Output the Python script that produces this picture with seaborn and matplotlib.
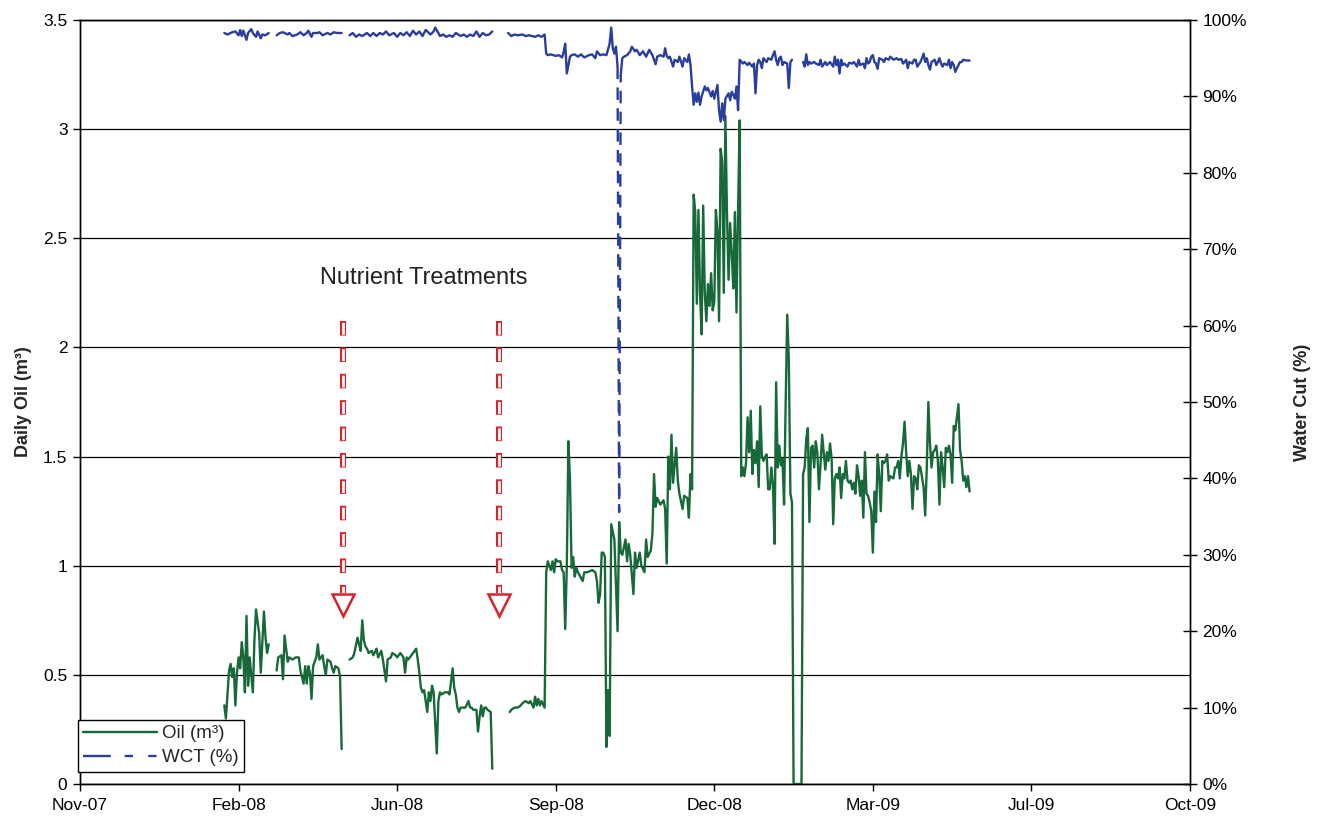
import numpy as np
import pandas as pd
import matplotlib
matplotlib.use("Agg")
import matplotlib.pyplot as plt
import matplotlib.dates as mdates
from matplotlib.lines import Line2D
from matplotlib.ticker import FixedLocator, FuncFormatter
from matplotlib import font_manager as fm
import seaborn as sns

# ---------------- data (days counted from the axis start, 15-Nov-2007) ----------------
AXIS_START = "2007-11-15"
X_TICK_STEP_DAYS = 100
X_SPAN_DAYS = 700

oil_day = [
    91, 92, 94, 95, 96, 97, 98, 99, 100, 101, 102, 103, 104, 105, 106, 107, 109, 110, 111, 113, 114, 116, 117, 118, 119,
    124, 125, 127, 128, 129, 131, 132, 134, 136, 138, 139, 141, 142, 143, 144, 145, 146, 147, 149, 150, 151, 153, 154,
    155, 156, 158, 159, 160, 161, 163, 164, 165,
    170, 172, 173, 175, 176, 177, 178, 179, 180, 181, 182, 184, 185, 187, 188, 190, 191, 193, 194, 196, 197, 199, 200,
    202, 204, 205, 206, 207, 209, 211, 212, 213, 214, 215, 216, 217, 218, 219, 220, 221, 222, 223, 225, 226, 227, 228,
    230, 232, 233, 235, 236, 237, 238, 239, 240, 242, 243, 245, 246, 247, 248, 250, 251, 252, 253, 254, 255, 256, 257,
    259, 260,
    271, 272, 274, 276, 278, 279, 281, 283, 284, 286, 287, 288, 289, 290, 291, 293, 294, 295, 297, 298, 299, 300, 301,
    303, 304, 305, 306, 307, 308, 309, 310, 311, 312, 313, 314, 317, 318, 320, 323, 325, 326, 327, 328, 329, 330, 331,
    332, 333, 334, 335, 337, 339, 340, 341, 342, 344, 345, 346, 347, 349, 350, 351, 353, 354, 356, 357, 358, 360, 361,
    362, 363, 364, 366, 368, 369, 370, 371, 372, 373, 374, 376, 377, 378, 380, 381, 383, 384, 385, 386,
    387, 388, 389, 390, 391, 392, 393, 394, 395, 396, 397, 398, 399, 400, 401, 402, 403, 404, 405, 406, 407, 408, 409,
    410, 411, 412, 413, 414, 415, 416, 417,
    418, 419, 420, 421, 422, 423, 424, 425, 426, 427, 428, 429, 430, 431, 432, 433, 434, 435, 436, 437, 438, 439, 440,
    441, 442, 443, 444, 445, 446, 447, 448, 449, 450, 455,
    456, 457, 458, 459, 460, 461, 462, 463, 464, 465, 466, 467, 468, 470, 471, 472, 473, 474, 475, 476, 477, 478, 479,
    480, 481, 482, 483, 484, 485, 486, 487, 488, 489, 490, 491, 492, 493, 494, 495, 496, 497, 498, 499, 500, 501, 502,
    503, 504, 505, 506, 507, 508, 509, 510, 511, 513, 514, 515, 516, 517, 518, 519, 520, 521, 522, 523, 524, 525, 526,
    527, 528, 529, 530, 532, 533, 534, 535, 536, 537, 538, 539, 540, 541, 542, 543, 544, 545, 546, 547, 548, 549, 550,
    551, 552, 553, 554, 555, 556, 557, 558, 559, 560, 561,
]
oil_m3 = [
    0.36, 0.30, 0.52, 0.55, 0.49, 0.53, 0.36, 0.51, 0.58, 0.53, 0.65, 0.58, 0.42, 0.77, 0.45, 0.58, 0.42, 0.66, 0.80,
    0.69, 0.51, 0.79, 0.67, 0.60, 0.64,
    0.52, 0.58, 0.59, 0.48, 0.68, 0.56, 0.58, 0.57, 0.58, 0.58, 0.52, 0.46, 0.54, 0.46, 0.54, 0.51, 0.39, 0.54, 0.58,
    0.64, 0.57, 0.59, 0.54, 0.50, 0.57, 0.56, 0.53, 0.51, 0.54, 0.53, 0.49, 0.16,
    0.57, 0.58, 0.60, 0.67, 0.64, 0.61, 0.75, 0.66, 0.63, 0.62, 0.60, 0.61, 0.59, 0.62, 0.58, 0.61, 0.57, 0.47, 0.57,
    0.58, 0.60, 0.59, 0.58, 0.60, 0.58, 0.51, 0.58, 0.57, 0.59, 0.61, 0.62, 0.57, 0.51, 0.44, 0.42, 0.43, 0.38, 0.33,
    0.42, 0.38, 0.45, 0.42, 0.14, 0.38, 0.42, 0.41, 0.42, 0.42, 0.41, 0.53, 0.44, 0.41, 0.35, 0.33, 0.35, 0.35, 0.35,
    0.38, 0.35, 0.35, 0.34, 0.34, 0.24, 0.31, 0.36, 0.31, 0.35, 0.35, 0.34, 0.33, 0.07,
    0.33, 0.34, 0.35, 0.35, 0.36, 0.37, 0.38, 0.37, 0.38, 0.35, 0.40, 0.36, 0.39, 0.36, 0.38, 0.35, 0.97, 1.02, 0.98,
    1.02, 0.97, 1.03, 1.02, 1.02, 0.98, 0.97, 0.71, 1.00, 1.57, 1.39, 0.99, 1.04, 0.95, 0.99, 0.97, 0.93, 0.97, 0.97,
    0.98, 0.97, 0.93, 0.83, 0.87, 1.06, 1.06, 1.04, 0.17, 0.43, 0.22, 1.19, 1.12, 0.70, 1.20, 1.06, 1.05, 1.12, 1.02,
    1.10, 1.05, 0.87, 1.06, 0.99, 1.06, 1.00, 0.97, 1.12, 1.04, 1.07, 1.15, 1.42, 1.27, 1.31, 1.28, 1.30, 1.26, 1.01,
    1.50, 1.35, 1.60, 1.38, 1.54, 1.39, 1.33, 1.26, 1.32, 1.31, 1.22, 1.42, 1.35,
    2.70, 2.62, 2.20, 2.63, 2.25, 2.06, 2.65, 2.25, 2.12, 2.29, 2.19, 2.34, 2.17, 2.21, 2.63, 2.53, 2.12, 2.91, 2.85,
    2.25, 3.06, 2.62, 2.31, 2.57, 2.43, 2.27, 2.62, 2.16, 2.63, 3.04, 1.41,
    1.45, 1.41, 1.47, 1.68, 1.52, 1.71, 1.42, 1.53, 1.47, 1.57, 1.36, 1.73, 1.50, 1.48, 1.50, 1.51, 1.35, 1.35, 1.45,
    1.37, 1.10, 1.84, 1.45, 1.55, 1.46, 1.49, 1.28, 1.74, 2.15, 1.94, 1.33, 1.29, 0.00, 0.00,
    1.42, 1.45, 1.58, 1.63, 1.20, 1.54, 1.55, 1.45, 1.57, 1.52, 1.35, 1.46, 1.60, 1.44, 1.52, 1.48, 1.56, 1.49, 1.19,
    1.40, 1.42, 1.40, 1.45, 1.31, 1.42, 1.40, 1.48, 1.39, 1.38, 1.39, 1.35, 1.38, 1.33, 1.46, 1.41, 1.32, 1.39, 1.22,
    1.52, 1.33, 1.32, 1.29, 1.25, 1.06, 1.34, 1.20, 1.51, 1.42, 1.25, 1.48, 1.47, 1.48, 1.51, 1.39, 1.41, 1.40, 1.45,
    1.45, 1.48, 1.40, 1.50, 1.56, 1.66, 1.52, 1.41, 1.48, 1.42, 1.26, 1.41, 1.40, 1.35, 1.46, 1.45, 1.36, 1.23, 1.45,
    1.75, 1.56, 1.45, 1.52, 1.53, 1.55, 1.48, 1.28, 1.52, 1.45, 1.36, 1.54, 1.52, 1.55, 1.51, 1.38, 1.64, 1.62, 1.68,
    1.74, 1.53, 1.48, 1.39, 1.41, 1.36, 1.41, 1.34,
]
oil_breaks = [121, 167, 265]          # days with no oil record (line is broken there)

wct_day = [
    91, 93, 96, 98, 100, 101, 102, 103, 105, 106, 108, 109, 111, 112, 114, 115, 117, 119,
    124, 126, 128, 131, 132, 134, 137, 139, 141, 143, 144, 146, 147, 150, 151, 153, 156, 158, 160, 162, 165,
    170, 172, 174, 176, 178, 181, 183, 185, 187, 189, 191, 193, 195, 198, 200, 202, 204, 206, 208, 210, 212, 214, 216,
    218, 221, 223, 224, 226, 227, 229, 231, 233, 235, 237, 240, 242, 244, 246, 248, 250, 252, 254, 256, 258, 260,
    270, 272, 274, 276, 279, 281, 283, 285, 287, 289, 291, 293, 294, 295, 297, 300, 302, 304, 305, 306, 307, 309, 310,
    312, 314, 316, 318, 321, 323, 325, 326, 328, 330, 332, 334, 335, 336, 337, 338, 339,
    341, 342, 343, 345, 347, 348, 350, 351, 353, 355, 357, 359, 361, 363, 364, 366, 368, 369, 370, 371, 372, 374, 375,
    377, 378, 380, 381, 383, 384, 385, 386, 387, 388, 389, 390, 391, 392, 394, 395, 396, 398, 399, 400, 402, 403, 404,
    405, 406, 407, 409, 410, 411, 412, 413, 414, 415, 416, 418, 419, 421, 422, 424, 425, 426, 427, 428, 429, 430, 431,
    433, 434, 436, 437, 438, 439, 440, 441, 442, 443, 444, 446, 447, 448, 449,
    456, 457, 458, 459, 460, 461, 463, 464, 466, 467, 468, 470, 471, 472, 473, 475, 476, 477, 478, 479, 480, 481, 482,
    484, 485, 487, 488, 490, 491, 492, 494, 495, 496, 497, 498, 499, 500, 501, 502, 503, 504, 506, 507, 508, 510, 511,
    512, 513, 515, 516, 518, 519, 520, 521, 522, 523, 525, 526, 527, 528, 530, 531, 532, 533, 534, 535, 536, 537, 539,
    540, 541, 542, 543, 544, 545, 547, 548, 549, 550, 551, 552, 553, 554, 555, 556, 557, 559, 561,
]
wct_pct = [
    98.3, 98.1, 98.4, 98.5, 98.0, 98.7, 97.9, 98.6, 97.4, 98.3, 98.8, 98.3, 97.8, 98.5, 97.6, 98.1, 98.0, 98.3,
    98.0, 98.3, 98.4, 98.1, 98.3, 97.9, 98.1, 98.4, 98.0, 98.3, 98.6, 97.8, 98.3, 98.3, 98.4, 98.0, 98.3, 98.1, 98.4,
    98.3, 98.3,
    98.0, 98.3, 97.8, 98.1, 97.9, 98.3, 97.9, 98.3, 97.9, 98.3, 98.1, 98.5, 98.0, 98.3, 97.8, 98.3, 98.0, 98.4, 97.9,
    98.6, 98.1, 98.5, 97.9, 98.7, 98.1, 98.5, 99.0, 98.3, 97.9, 98.1, 97.8, 98.0, 97.8, 98.3, 97.9, 98.1, 97.8, 98.1,
    97.9, 98.5, 97.8, 98.3, 98.0, 98.1, 98.5,
    98.3, 97.9, 98.1, 98.0, 98.1, 97.9, 98.0, 97.9, 97.8, 98.0, 97.8, 98.1, 95.6, 95.4, 95.5, 95.3, 95.4, 95.1, 95.8,
    96.9, 93.0, 95.2, 95.4, 95.5, 95.2, 95.5, 95.1, 95.4, 95.5, 95.0, 95.9, 95.4, 95.5, 95.4, 96.9, 99.0, 96.3, 95.6,
    96.5, 93.9,
    92.8, 95.0, 95.2, 95.4, 95.9, 96.5, 95.9, 96.1, 95.4, 95.9, 95.2, 96.1, 95.4, 94.2, 95.2, 95.4, 95.2, 96.3, 95.3,
    95.0, 95.2, 93.9, 94.8, 94.5, 95.2, 93.9, 95.0, 94.5, 95.5, 94.1, 91.3, 88.9, 90.4, 89.3, 90.5, 88.9, 90.0, 91.3,
    90.8, 91.1, 90.0, 90.7, 89.7, 91.5, 88.2, 86.7, 89.1, 86.9, 89.7, 90.4, 89.5, 90.6, 90.2, 89.7, 91.3, 88.2, 94.8,
    94.3, 94.5, 94.1, 94.4, 93.9, 94.3, 90.4, 94.1, 94.8, 94.5, 93.7, 95.0, 94.5, 95.0, 94.8, 95.4, 95.9, 94.8, 94.1,
    95.0, 95.2, 94.1, 94.5, 94.3, 91.1, 94.5, 94.8,
    94.5, 93.9, 95.5, 94.1, 94.5, 94.3, 94.5, 94.3, 94.1, 94.8, 93.9, 94.5, 94.1, 94.3, 94.5, 93.9, 95.2, 94.1, 94.8,
    93.0, 94.8, 94.1, 94.3, 93.9, 94.4, 94.3, 94.5, 93.9, 94.8, 94.1, 94.3, 93.7, 95.0, 94.3, 94.5, 95.2, 95.4, 94.5,
    94.3, 93.6, 95.0, 94.8, 94.5, 95.0, 94.8, 95.2, 95.0, 94.8, 95.0, 94.8, 94.9, 94.3, 94.5, 94.8, 93.7, 94.5, 94.3,
    94.8, 94.8, 93.9, 94.5, 95.0, 95.6, 94.5, 95.0, 94.1, 93.5, 94.5, 94.8, 94.1, 94.5, 95.0, 94.3, 93.9, 94.3, 94.1,
    94.8, 93.7, 94.5, 94.1, 93.2, 93.7, 94.1, 94.5, 94.5, 94.8, 94.7, 94.7,
]
wct_breaks = [121, 167, 265, 340, 452]

# the one-day water-cut dive, drawn as a dashed stretch
wct_dive_day = [339, 340, 341]
wct_dive_pct = [93.9, 35.6, 92.8]

treatment_dates = ["2008-04-29", "2008-08-05"]
treatment_label = "Nutrient Treatments"
label_date = "2008-06-19"

left_ticks = [0, 0.5, 1, 1.5, 2, 2.5, 3, 3.5]
right_ticks = [0, 10, 20, 30, 40, 50, 60, 70, 80, 90, 100]

# ---------------- style ----------------
GREEN = "#17693a"
BLUE = "#2a3f9c"
RED = "#d9232b"

sns.set_style("ticks")
names = {f.name for f in fm.fontManager.ttflist}
BASE = "Liberation Sans" if "Liberation Sans" in names else "DejaVu Sans"
NARROW = "Liberation Sans Narrow" if "Liberation Sans Narrow" in names else BASE
plt.rcParams["font.family"] = [BASE, "DejaVu Sans"]
plt.rcParams["lines.scale_dashes"] = False
plt.rcParams["axes.edgecolor"] = "black"
plt.rcParams["axes.linewidth"] = 1.0

start = pd.Timestamp(AXIS_START)


def to_frame(days, vals, breaks, name):
    d = pd.DataFrame({"day": days, name: vals})
    d["date"] = start + pd.to_timedelta(d["day"], unit="D")
    d["seg"] = np.searchsorted(np.array(breaks), d["day"].to_numpy(), side="left")
    return d


oil_df = to_frame(oil_day, oil_m3, oil_breaks, "oil")
wct_df = to_frame(wct_day, wct_pct, wct_breaks, "wct")
dive_df = to_frame(wct_dive_day, wct_dive_pct, [], "wct")

fig = plt.figure(figsize=(13.23, 8.23), dpi=100)
fig.patch.set_facecolor("white")
ax = fig.add_axes([80 / 1323, 39 / 823, 1110 / 1323, 764 / 823])
ax2 = ax.twinx()

sns.lineplot(data=oil_df, x="date", y="oil", units="seg", estimator=None, color=GREEN,
             lw=1.7, ax=ax, legend=False, zorder=3)
sns.lineplot(data=wct_df, x="date", y="wct", units="seg", estimator=None, color=BLUE,
             lw=1.7, ax=ax2, legend=False, zorder=3)
sns.lineplot(data=dive_df, x="date", y="wct", estimator=None, color=BLUE, lw=1.7,
             linestyle=(0, (9, 6)), ax=ax2, legend=False, zorder=3)

# axes limits / ticks
x0 = start
x1 = start + pd.Timedelta(days=X_SPAN_DAYS)
ax.set_xlim(x0, x1)
xt = [start + pd.Timedelta(days=k) for k in range(0, X_SPAN_DAYS + 1, X_TICK_STEP_DAYS)]
ax.xaxis.set_major_locator(FixedLocator(mdates.date2num(xt)))
ax.xaxis.set_major_formatter(mdates.DateFormatter("%b-%y"))

ax.set_ylim(0, 3.5)
ax.yaxis.set_major_locator(FixedLocator(left_ticks))
ax.yaxis.set_major_formatter(FuncFormatter(lambda v, p: f"{v:g}"))
ax2.set_ylim(0, 100)
ax2.yaxis.set_major_locator(FixedLocator(right_ticks))
ax2.yaxis.set_major_formatter(FuncFormatter(lambda v, p: f"{v:.0f}%"))

ax.yaxis.grid(True, color="black", lw=0.9)
ax.xaxis.grid(False)
ax.set_axisbelow(True)

TICK_FS = 12.5
ax.tick_params(axis="x", direction="out", length=5, width=1, pad=5, labelsize=TICK_FS, colors="black")
ax.tick_params(axis="y", direction="out", length=5, width=1, pad=4, labelsize=TICK_FS, colors="black")
ax2.tick_params(axis="y", direction="inout", length=10, width=1, pad=4, labelsize=TICK_FS, colors="black")
for a in (ax, ax2):
    for s in a.spines.values():
        s.set_visible(True)
        s.set_color("black")
        s.set_linewidth(1.0)

ax.set_xlabel("")
ax.set_ylabel("Daily Oil (m³)", fontsize=13, fontweight="bold", family=[NARROW, "DejaVu Sans"], labelpad=8)
ax2.set_ylabel("Water Cut (%)", fontsize=13, fontweight="bold", family=[NARROW, "DejaVu Sans"], labelpad=34)

# treatment arrows (hollow dashed stems with hollow heads)
for d in treatment_dates:
    t = pd.Timestamp(d)
    ax.plot([t, t], [2.12, 0.875], color=RED, lw=4.4, linestyle=(0, (10.5, 8.5)),
            dash_capstyle="butt", zorder=4)
    ax.plot([t, t], [2.12, 0.875], color="white", lw=2.0, linestyle=(18.0, (8.5, 10.5)),
            dash_capstyle="butt", zorder=5)
    ax.plot([t], [0.82], marker="v", ms=16, mfc="white", mec=RED, mew=1.8, zorder=5)
ax.text(pd.Timestamp(label_date), 2.32, treatment_label, ha="center", va="center",
        fontsize=17, color="#222222", zorder=6)

# legend
handles = [
    Line2D([], [], color=GREEN, lw=1.7),
    Line2D([], [], color=BLUE, lw=1.7, linestyle=(0, (20, 10, 6, 11, 6, 11))),
]
leg = ax2.legend(handles, ["Oil (m³)", "WCT (%)"], loc="lower left", bbox_to_anchor=(-0.002, 0.016),
                 borderaxespad=0, frameon=True, fancybox=False, framealpha=1, edgecolor="black",
                 fontsize=13.5, handlelength=3.9, handletextpad=0.3, labelspacing=0.35,
                 borderpad=0.3)
leg.get_frame().set_linewidth(1.0)
leg.set_zorder(10)

fig.savefig("out.png", dpi=100, facecolor="white")
